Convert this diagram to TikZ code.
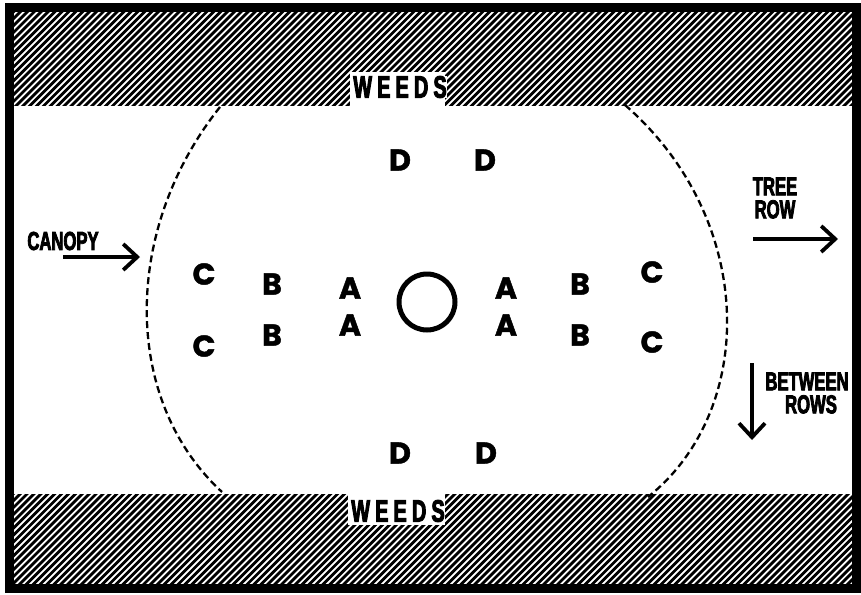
\documentclass[tikz,border=0pt]{standalone}
\usepackage{fontspec}
\usetikzlibrary{arrows.meta}
\newfontfamily\labelfont[FakeStretch=0.64,FakeBold=3]{Liberation Sans Bold}
\newfontfamily\markfont[FakeBold=1.5]{Poppins Bold}
\tikzset{
    lbl/.style={font={\labelfont\fontsize{26}{23}\selectfont}, inner sep=0pt, align=center},
    weeds/.style={font={\labelfont\fontsize{31}{31}\selectfont}, fill=white, inner sep=0pt},
    spot/.style={font={\markfont\fontsize{30}{30}\selectfont}, inner sep=0pt},
    hatch/.style={line width=2.8pt},
    canopy/.style={line width=2.3pt, dash pattern=on 7pt off 4pt},
    dir/.style={line width=3.8pt, -{Straight Barb[length=14pt,width=26pt,line width=3.8pt]}}
}
\begin{document}
\begin{tikzpicture}[x=1pt,y=-1pt]
    \useasboundingbox (0,0) rectangle (861,594);
    \fill[white] (0,0) rectangle (861,594);
    % Weed bands
    \begin{scope}
        \clip (13,12) rectangle (852,105);
        \foreach \i in {-18,...,125}{
            \draw[hatch] ({\i*6.9},115) -- ++(110,-110);
        }
    \end{scope}
    \begin{scope}
        \clip (13,494) rectangle (852,583);
        \foreach \i in {-16,...,125}{
            \draw[hatch] ({\i*6.9},590) -- ++(100,-100);
        }
    \end{scope}
    \fill[white] (350,72) rectangle (445,106);
    \fill[white] (348,493) rectangle (445,525);
    \node[weeds] (weedsTop) at (400,87) {W\,E\,E\,D\,S};
    \node[weeds] (weedsBot) at (398,511) {W\,E\,E\,D\,S};
    % Frame
    \draw[line width=9pt] (9,7.5) rectangle (856,588);
    % Canopy edge
    \draw[canopy] (220,107) .. controls (122,230) and (122,400) .. (222,492);
    \draw[canopy] (625,105) .. controls (757,220) and (757,410) .. (648,497);
    % Trunk
    \draw[line width=5pt] (427,302) circle (28);
    % Sampling spots
    \foreach \x/\y/\t [count=\n] in {400/160/D, 485/160/D, 204/274/C, 204/346/C, 272/284/B, 272/335/B,
        350/288/A, 350/325/A, 506/288/A, 506/325/A, 580/284/B, 580/335/B,
        652/272/C, 652/342/C, 400/453/D, 486/453/D}{
        \node[spot] (s\n) at (\x,\y) {\t};
    }
    % Labels and directions
    \node[lbl] (canopyLbl) at (63,241) {CANOPY};
    \coordinate (canopyA) at (63,257);
    \coordinate (canopyB) at (140,257);
    \draw[dir] (canopyA) -- (canopyB);
    \node[lbl] (rowLbl) at (775,198) {TREE\\ROW};
    \coordinate (rowA) at (753,239);
    \coordinate (rowB) at (838,239);
    \draw[dir] (rowA) -- (rowB);
    \node[lbl] (betweenLbl) at (807,393) {BETWEEN\\\hspace{8pt}ROWS};
    \coordinate (betweenA) at (752,363);
    \coordinate (betweenB) at (752,440);
    \draw[dir] (betweenA) -- (betweenB);
\end{tikzpicture}
\end{document}
